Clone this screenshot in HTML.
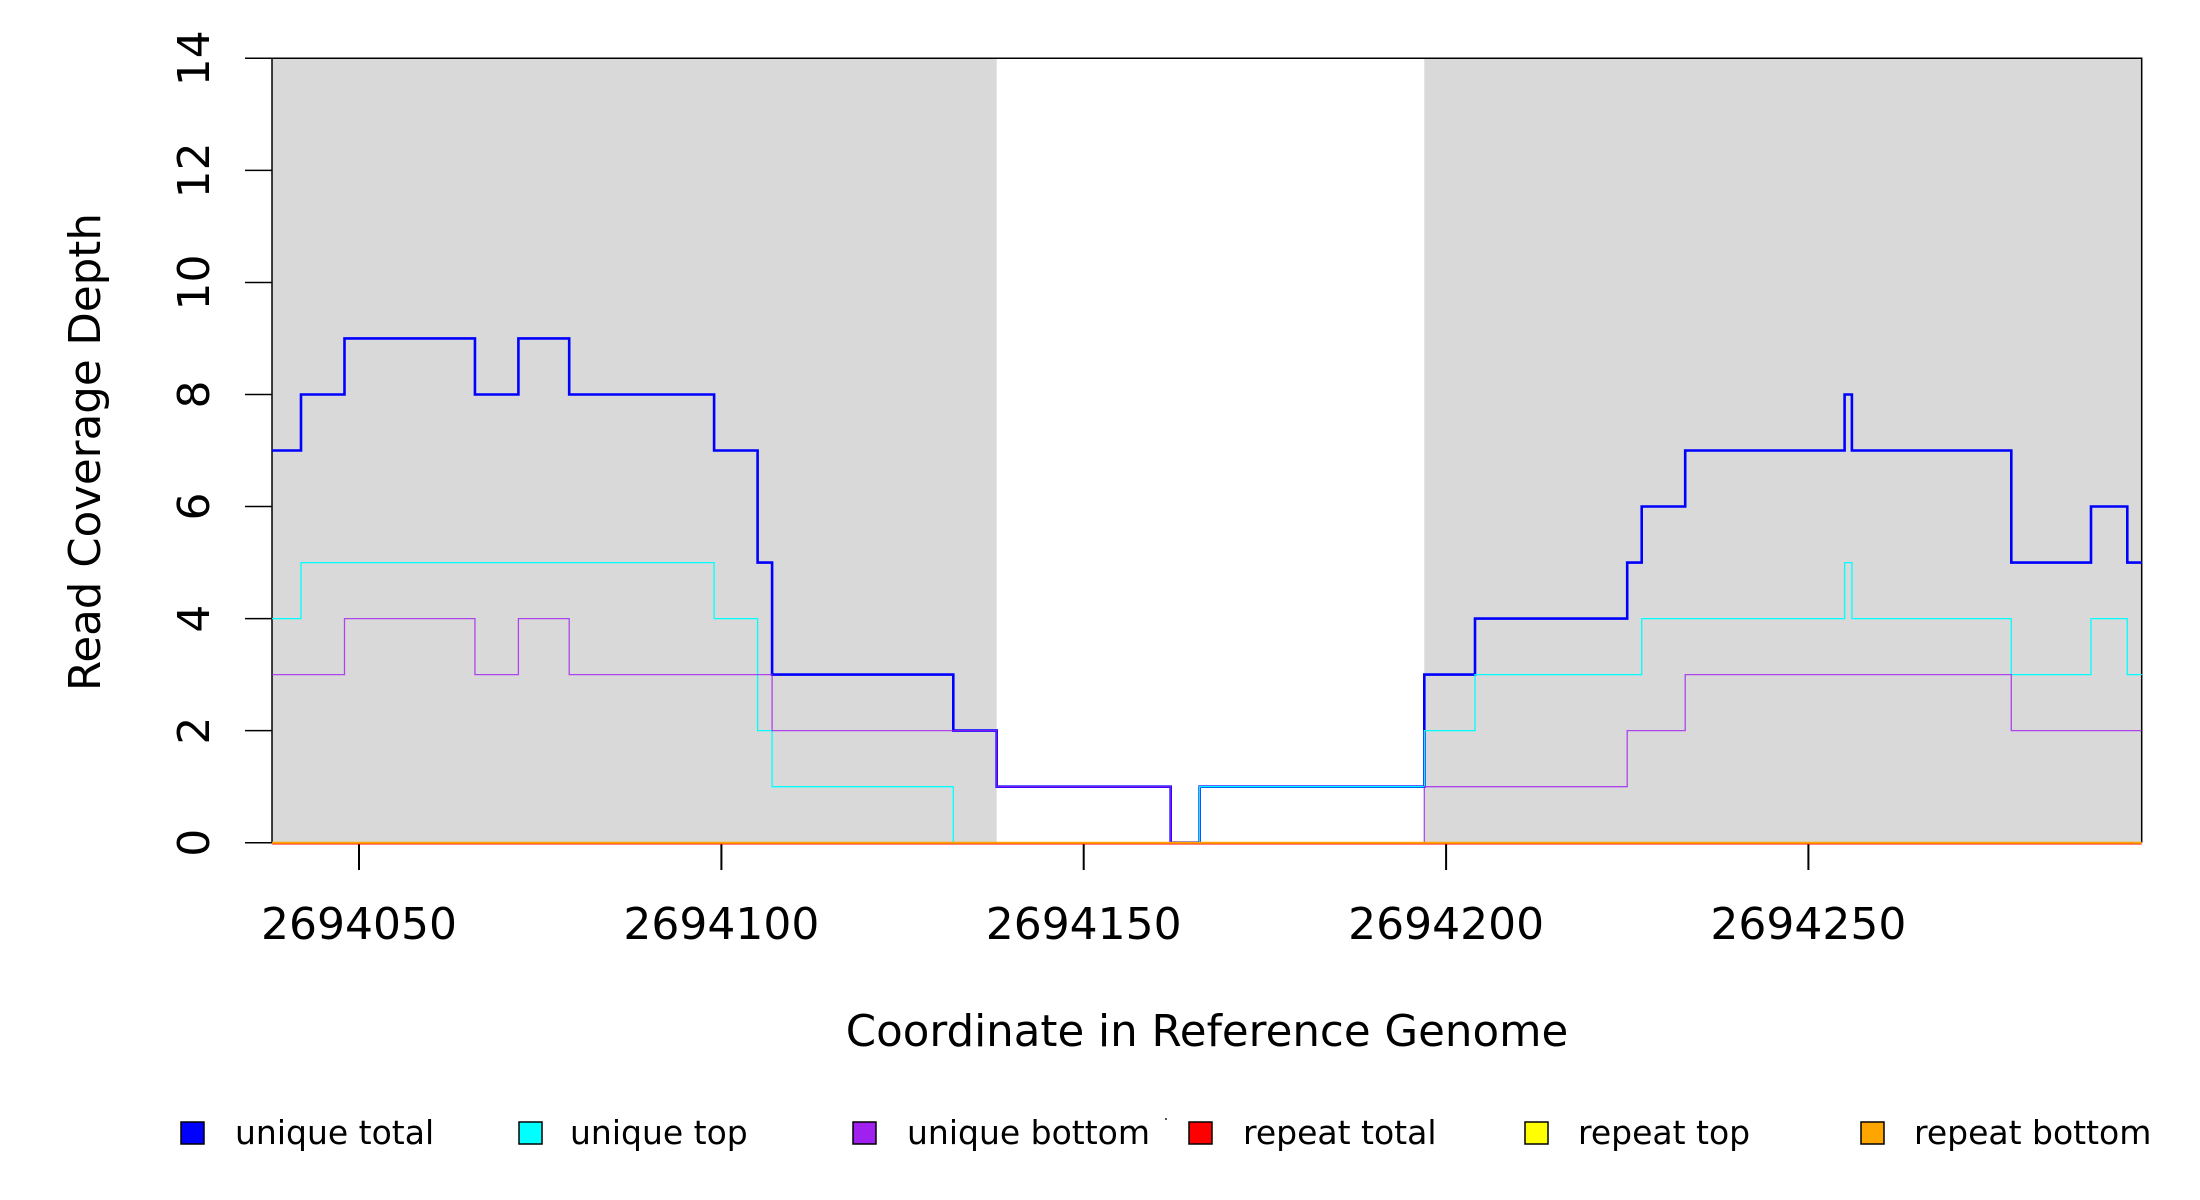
<!DOCTYPE html>
<html><head><meta charset="utf-8"><style>
html,body{margin:0;padding:0;background:#fff;}
svg{display:block;}
text{font-family:"DejaVu Sans","Liberation Sans",sans-serif;fill:#000;}
</style></head><body>
<svg width="2200" height="1200" viewBox="0 0 2200 1200" xmlns="http://www.w3.org/2000/svg">
<rect x="272" y="58.3" width="724.7" height="784.4" fill="#D9D9D9"/>
<rect x="1424.3" y="58.3" width="717.4" height="784.4" fill="#D9D9D9"/>
<g stroke="#000" stroke-width="1.5" fill="none">
<path d="M272,58.3 H2141.7 V842.7"/>
<path d="M272,58.3 V842.7"/>
<path d="M245,58.3H272 M245,170.4H272 M245,282.5H272 M245,394.5H272 M245,506.5H272 M245,618.6H272 M245,730.6H272 M245,842.7H272"/>
<path d="M359,843V870 M721.4,843V870 M1083.7,843V870 M1446.1,843V870 M1808.4,843V870" stroke-width="2"/>
</g>
<path fill="none" stroke="#0000FF" stroke-width="2.6" d="M272,450.5 H301 V394.5 H344.5 V338.4 H474.95 V394.5 H518.4 V338.4 H569.2 V394.5 H714.1 V450.5 H757.6 V562.6 H772.1 V674.6 H953.3 V730.6 H996.7 V786.7 H1170.7 V842.7 H1199.7 V786.7 H1424.3 V674.6 H1475 V618.6 H1627.2 V562.6 H1641.7 V506.5 H1685.2 V450.5 H1844.6 V394.5 H1851.9 V450.5 H2011.3 V562.6 H2091 V506.5 H2127.3 V562.6 H2141.8"/>
<path fill="none" stroke="#00FFFF" stroke-width="1.3" d="M272,618.6 H301 V562.6 H714.1 V618.6 H757.6 V730.6 H772.1 V786.7 H953.3 V842.7 H1199.7 V786.7 H1424.3 V730.6 H1475 V674.6 H1641.7 V618.6 H1844.6 V562.6 H1851.9 V618.6 H2011.3 V674.6 H2091 V618.6 H2127.3 V674.6 H2141.8"/>
<path fill="none" stroke="#A020F0" stroke-opacity="0.8" stroke-width="1.3" d="M272,674.6 H344.5 V618.6 H474.95 V674.6 H518.4 V618.6 H569.2 V674.6 H772.1 V730.6 H996.7 V786.7 H1170.7 V842.7 H1424.3 V786.7 H1627.2 V730.6 H1685.2 V674.6 H2011.3 V730.6 H2141.8"/>
<path stroke="#FF0000" stroke-width="2" d="M272,843.5H2141.7"/>
<path stroke="#FFFF00" stroke-width="1.5" d="M272,842.7H2141.7"/>
<path stroke="#FFA500" stroke-width="2" d="M272,842.7H2141.7"/>
<g font-size="44" text-anchor="middle">
<text x="209" y="842.7" transform="rotate(-90 209 842.7)">0</text>
<text x="209" y="730.6" transform="rotate(-90 209 730.6)">2</text>
<text x="209" y="618.6" transform="rotate(-90 209 618.6)">4</text>
<text x="209" y="506.5" transform="rotate(-90 209 506.5)">6</text>
<text x="209" y="394.5" transform="rotate(-90 209 394.5)">8</text>
<text x="209" y="282.5" transform="rotate(-90 209 282.5)">10</text>
<text x="209" y="170.4" transform="rotate(-90 209 170.4)">12</text>
<text x="209" y="58.3" transform="rotate(-90 209 58.3)">14</text>
<text x="359" y="939">2694050</text>
<text x="721.4" y="939">2694100</text>
<text x="1083.7" y="939">2694150</text>
<text x="1446.1" y="939">2694200</text>
<text x="1808.4" y="939">2694250</text>
</g>
<text x="1207" y="1046" font-size="43.5" text-anchor="middle">Coordinate in Reference Genome</text>
<text x="100" y="452" font-size="43.5" text-anchor="middle" transform="rotate(-90 100 452)">Read Coverage Depth</text>
<g stroke="#000" stroke-width="1.5">
<rect x="181" y="1122" width="23" height="22" fill="#0000FF"/>
<rect x="519" y="1122" width="23" height="22" fill="#00FFFF"/>
<rect x="853" y="1122" width="23" height="22" fill="#A020F0"/>
<rect x="1189" y="1122" width="23" height="22" fill="#FF0000"/>
<rect x="1525" y="1122" width="23" height="22" fill="#FFFF00"/>
<rect x="1861" y="1122" width="23" height="22" fill="#FFA500"/>
</g>
<rect x="1165" y="1118" width="2" height="2" fill="#555"/>
<g font-size="33">
<text x="235" y="1144">unique total</text>
<text x="570" y="1144">unique top</text>
<text x="907" y="1144">unique bottom</text>
<text x="1243" y="1144">repeat total</text>
<text x="1578" y="1144">repeat top</text>
<text x="1914" y="1144">repeat bottom</text>
</g>
</svg>
</body></html>
